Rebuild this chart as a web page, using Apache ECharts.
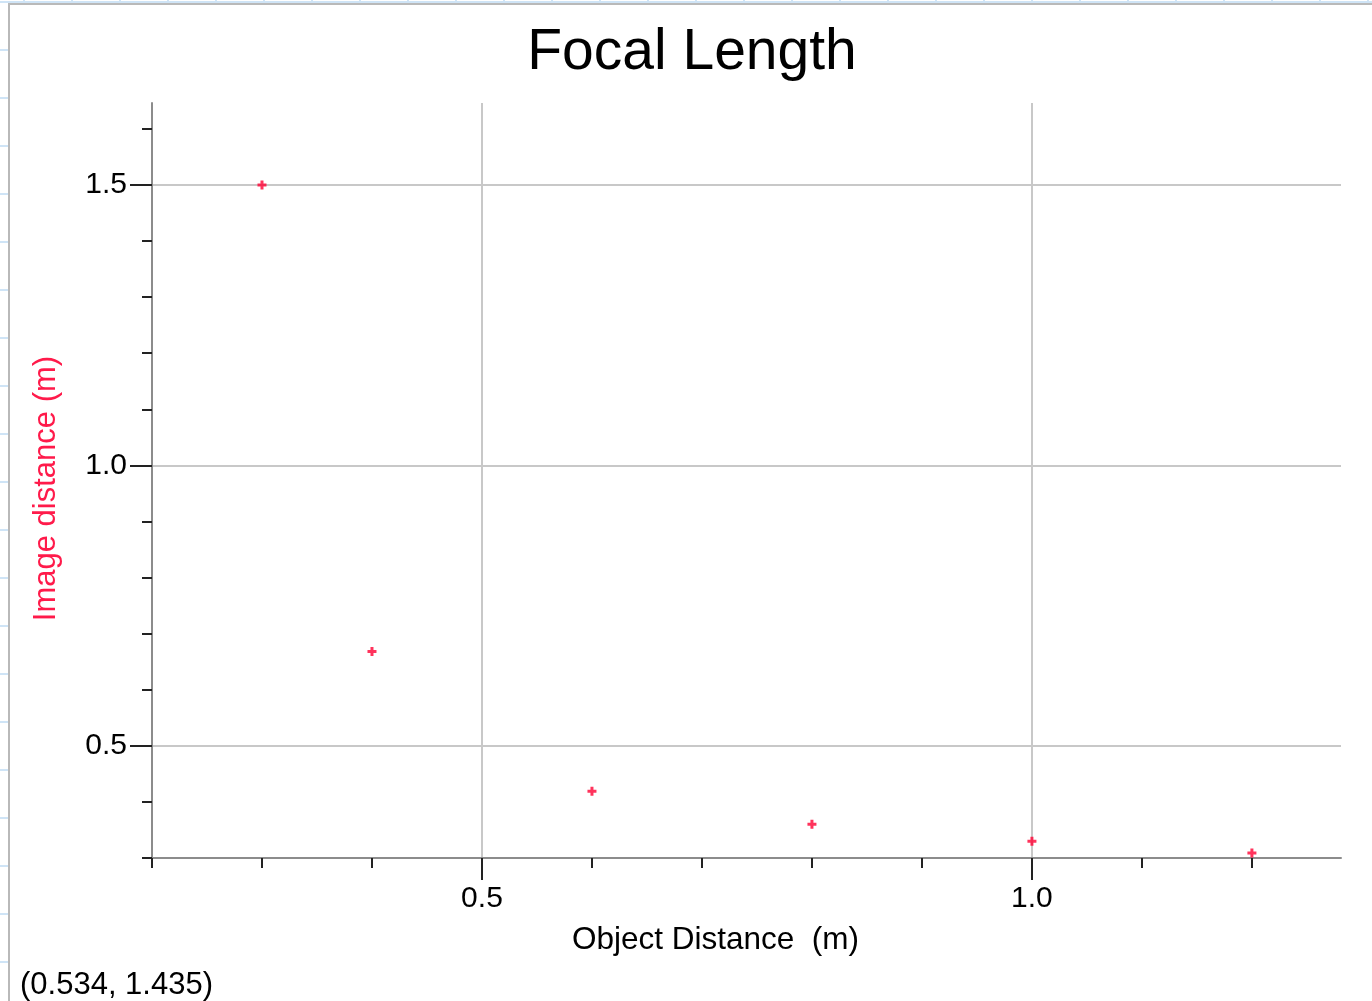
<!DOCTYPE html>
<html>
<head>
<meta charset="utf-8">
<script src="https://cdn.jsdelivr.net/npm/echarts@6/dist/echarts.min.js"></script>
<style>
  html, body { margin: 0; padding: 0; width: 1372px; height: 1001px; overflow: hidden; }
  body {
    background-color: #ffffff;
    background-image:
      linear-gradient(to right, #cfe4f6 2px, transparent 2px),
      linear-gradient(to bottom, #cfe4f6 2px, transparent 2px);
    background-size: 48px 48px, 48px 48px;
    background-position: 23px 0, 0 49px;
  }
  #frame {
    position: absolute; left: 8px; top: 3px; width: 1364px; height: 998px;
    background: #ffffff; border-left: 2px solid #b9b9b9; border-top: 2px solid #b9b9b9;
  }
  #chart { position: absolute; left: 0; top: 0; width: 1364px; height: 998px; }
</style>
</head>
<body>
<div id="frame"><div id="chart"></div></div>
<script>
const chartTitle = 'Focal Length';
const xAxisName = 'Object Distance  (m)';
const yAxisName = 'Image distance (m)';
const cursorText = '(0.534, 1.435)';
const objectDistance = [0.3, 0.4, 0.6, 0.8, 1.0, 1.2];
const imageDistance = [1.5, 0.668, 0.419, 0.36, 0.33, 0.309];
const xMinorTicks = [0.2, 0.3, 0.4, 0.5, 0.6, 0.7, 0.8, 0.9, 1.0, 1.1, 1.2];
const yMinorTicks = [0.3, 0.4, 0.5, 0.6, 0.7, 0.8, 0.9, 1.0, 1.1, 1.2, 1.3, 1.4, 1.5, 1.6];
const xMajorTicks = [0.5, 1.0];
const yMajorTicks = [0.5, 1.0, 1.5];

const FONT = '"Liberation Sans", Arial, sans-serif';
const points = objectDistance.map((x, i) => [x, imageDistance[i]]);

const chart = echarts.init(document.getElementById('chart'), null, { renderer: 'canvas' });
const tickStyle = { color: '#222', width: 2 };
const X_MIN = 0.2, X_MAX = 1.281, Y_MIN = 0.3, Y_MAX = 1.646;

chart.setOption({
  animation: false,
  backgroundColor: 'transparent',
  title: [
    { text: chartTitle, left: 'center', top: 20, padding: 0,
      textStyle: { fontFamily: FONT, fontSize: 57, fontWeight: 'normal', color: '#000' } },
    { text: cursorText, left: 10, bottom: 2, padding: 0,
      textStyle: { fontFamily: FONT, fontSize: 31, fontWeight: 'normal', color: '#000' } }
  ],
  grid: { left: 142, right: 33, top: 98, bottom: 145, containLabel: false },
  xAxis: [
    { type: 'value', min: X_MIN, max: X_MAX, interval: 0.1, position: 'bottom',
      axisLine: { show: true, onZero: false, lineStyle: { color: '#8c8c8c', width: 2 } },
      axisTick: { show: true, length: 10, customValues: xMinorTicks, lineStyle: tickStyle },
      axisLabel: { show: false }, splitLine: { show: false } },
    { type: 'value', min: X_MIN, max: X_MAX, interval: 0.1, position: 'bottom',
      axisLine: { show: false, onZero: false },
      axisTick: { show: true, length: 22, customValues: xMajorTicks, lineStyle: tickStyle },
      axisLabel: { show: true, customValues: xMajorTicks, margin: 26, formatter: v => v.toFixed(1),
        fontFamily: FONT, fontSize: 30, color: '#000' },
      splitLine: { show: true, lineStyle: { color: '#c8c8c8', width: 2 } },
      name: xAxisName, nameLocation: 'middle', nameGap: 66,
      nameTextStyle: { fontFamily: FONT, fontSize: 31.5, color: '#000', padding: [0, 62, 0, 0] } }
  ],
  yAxis: [
    { type: 'value', min: Y_MIN, max: Y_MAX, interval: 0.1, position: 'left',
      axisLine: { show: true, onZero: false, lineStyle: { color: '#8c8c8c', width: 2 } },
      axisTick: { show: true, length: 10, customValues: yMinorTicks, lineStyle: tickStyle },
      axisLabel: { show: false }, splitLine: { show: false } },
    { type: 'value', min: Y_MIN, max: Y_MAX, interval: 0.1, position: 'left',
      axisLine: { show: false, onZero: false },
      axisTick: { show: true, length: 22, customValues: yMajorTicks, lineStyle: tickStyle },
      axisLabel: { show: true, customValues: yMajorTicks, margin: 25, formatter: v => v.toFixed(1),
        fontFamily: FONT, fontSize: 30, color: '#000' },
      splitLine: { show: true, lineStyle: { color: '#c8c8c8', width: 2 } },
      name: yAxisName, nameLocation: 'middle', nameGap: 90, nameRotate: 90,
      nameTextStyle: { fontFamily: FONT, fontSize: 31, color: '#ff1a4a', padding: [0, 16, 0, 0] } }
  ],
  series: [{
    type: 'scatter', xAxisIndex: 0, yAxisIndex: 0, data: points,
    symbol: 'path://M3,0h3v3h3v3h-3v3h-3v-3h-3v-3h3z', symbolSize: 9,
    itemStyle: { color: '#ff0033' }, z: 5
  }]
});
</script>
</body>
</html>
